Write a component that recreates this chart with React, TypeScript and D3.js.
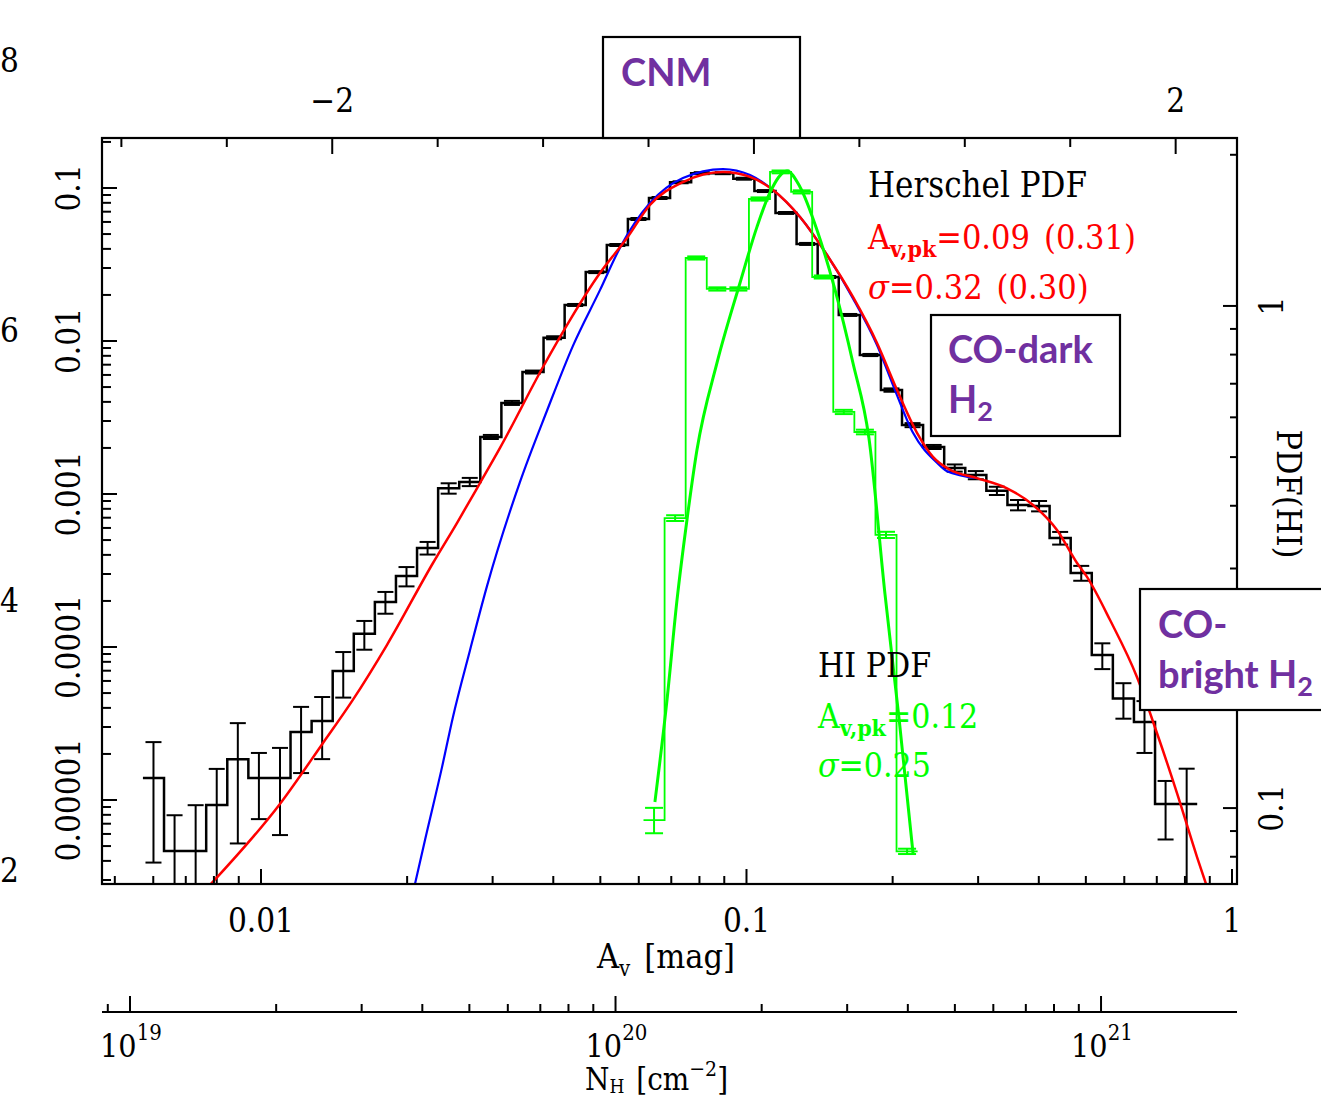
import { useEffect } from 'react'
import * as d3 from 'd3'

// ---- axis limits ----
const avDomain: [number, number] = [0.004705, 1.024]
const pdfDomain: [number, number] = [2.825e-6, 0.2122]
const hiDomain: [number, number] = [0.0706, 2.16]
const nhPerAv = 1.861e21
const etaZeroAv = 0.1036

// ---- Herschel dust PDF, bins of 0.1 in ln(Av) ----
const herschelLnStart = -5.165
const lnBin = 0.1
const herschelPdf = [
  1.39e-5, 4.65e-6, 4.65e-6, 9.27e-6, 1.85e-5, 1.39e-5, 1.39e-5, 2.78e-5, 3.28e-5, 6.97e-5,
  1.22e-4, 1.97e-4, 2.91e-4, 4.44e-4, 1.09e-3, 1.2e-3, 2.36e-3, 3.94e-3, 6.27e-3, 1.05e-2,
  1.72e-2, 2.82e-2, 4.24e-2, 6.27e-2, 8.6e-2, 0.109, 0.125, 0.125, 0.115, 0.0955,
  0.0687, 0.0431, 0.0262, 0.0148, 8.1e-3, 4.78e-3, 2.82e-3, 2.03e-3, 1.48e-3, 1.33e-3,
  1.05e-3, 8.48e-4, 8.35e-4, 5.16e-4, 3.05e-4, 8.87e-5, 4.6e-5, 3.23e-5, 9.42e-6, 9.42e-6,
]
const herschelErr = [
  1.0e-5, 3.3e-6, 4.6e-6, 6.7e-6, 1.33e-5, 6.4e-6, 8.0e-6, 1.28e-5, 1.43e-5, 2.3e-5,
  2.6e-5, 3.2e-5, 4.2e-5, 4.2e-5, 8.5e-5, 7.4e-5, 7.2e-5, 1.2e-4, 1.4e-4, 2.4e-4,
  2.6e-4, 4.2e-4, 6.4e-4, 9.4e-4, 1.3e-3, 1.6e-3, 1.9e-3, 1.9e-3, 1.7e-3, 1.4e-3,
  1.0e-3, 6.5e-4, 3.9e-4, 2.2e-4, 1.3e-4, 1.2e-4, 8.6e-5, 6.2e-5, 8.0e-5, 8.2e-5,
  6.5e-5, 6.6e-5, 6.5e-5, 4.9e-5, 3.4e-5, 1.7e-5, 1.2e-5, 1.2e-5, 3.9e-6, 6.6e-6,
]

// ---- HI PDF (right axis) ----
const hiLnStart = -2.791
const hiPdf = [0.0946, 0.378, 1.246, 1.081, 1.081, 1.633, 1.849, 1.687, 1.142, 0.615, 0.561, 0.35, 0.082]
const hiErr = [0.0055, 0.005, 0.009, 0.008, 0.008, 0.012, 0.012, 0.012, 0.008, 0.006, 0.006, 0.005, 0.001]

// ---- fitted curves, sampled from the figure ----
const redAv = [0.00789, 0.01094, 0.01342, 0.01546, 0.01817, 0.02261, 0.02533, 0.02826, 0.03107,
  0.03809, 0.04329, 0.04991, 0.05674, 0.06326, 0.07398, 0.08947, 0.1017, 0.1134, 0.1289,
  0.1465, 0.1657, 0.1857, 0.2042, 0.2245, 0.2421, 0.2625, 0.2985, 0.344, 0.3892,
  0.436, 0.4795, 0.5027, 0.5608, 0.6371, 0.7005, 0.7704, 0.8472, 0.884]
const redPdf = [2.83e-6, 9.42e-6, 2.36e-5, 4.51e-5, 1.03e-4, 3.54e-4, 6.46e-4, 1.18e-3, 2.0e-3,
  6.76e-3, 1.37e-2, 2.78e-2, 4.71e-2, 7.74e-2, 0.1094, 0.1273, 0.1181, 0.097, 0.0646,
  0.0365, 0.0194, 9.71e-3, 4.78e-3, 2.51e-3, 1.75e-3, 1.44e-3, 1.27e-3, 1.09e-3, 8.48e-4,
  5.82e-4, 3.54e-4, 2.87e-4, 1.5e-4, 6.37e-5, 2.74e-5, 1.11e-5, 4.24e-6, 2.83e-6]

const blueAv = [0.02076, 0.02177, 0.0236, 0.02485, 0.02694, 0.02921, 0.03416, 0.03882, 0.04391,
  0.04991, 0.05486, 0.06326, 0.07398, 0.08947, 0.1017, 0.1134, 0.1289, 0.1465, 0.1657,
  0.1857, 0.2022, 0.2203, 0.2468, 0.2588, 0.2985]
const bluePdf = [2.83e-6, 5.48e-6, 1.64e-5, 3.48e-5, 9.5e-5, 2.5e-4, 1.2e-3, 3.5e-3, 9.3e-3,
  2.15e-2, 4.06e-2, 7.97e-2, 0.1162, 0.133, 0.1216, 0.097, 0.0646, 0.0365, 0.019,
  9.41e-3, 4.78e-3, 2.51e-3, 1.6e-3, 1.41e-3, 1.27e-3]

const greenAv = [0.06477, 0.06859, 0.07193, 0.0754, 0.07906, 0.08694, 0.09696, 0.1051, 0.1117, 0.1212,
  0.1289, 0.1397, 0.1522, 0.1657, 0.1787, 0.1929, 0.2064, 0.2203]
const greenHi = [0.1028, 0.1641, 0.2597, 0.3748, 0.5165, 0.7699, 1.111, 1.437, 1.68, 1.857,
  1.726, 1.417, 1.076, 0.7699, 0.5463, 0.2664, 0.1493, 0.0813]

const FONT = '"DejaVu Serif Condensed", "DejaVu Serif", serif'
const SANS = 'Lato, "Open Sans", sans-serif'
const PURPLE = '#7030a0'
const L = 102, R = 1237, T = 138, B = 884
const NH_Y = 1012

function logTicks(lo: number, hi: number) {
  const out: { v: number; major: boolean }[] = []
  for (let e = Math.floor(Math.log10(lo)); e <= Math.ceil(Math.log10(hi)); e++) {
    for (let m = 1; m <= 9; m++) {
      const v = m * Math.pow(10, e)
      if (v >= lo && v <= hi) out.push({ v, major: m === 1 })
    }
  }
  return out
}

function stepPath(edges: number[], levels: number[]) {
  let d = `M${edges[0]},${levels[0]}H${edges[1]}`
  for (let i = 1; i < levels.length; i++) d += `V${levels[i]}H${edges[i + 1]}`
  return d
}

export default function App() {
  useEffect(() => {
    document.body.style.margin = '0'
  }, [])

  const x = d3.scaleLog().domain(avDomain).range([L, R])
  const y = d3.scaleLog().domain(pdfDomain).range([B, T])
  const yHi = d3.scaleLog().domain(hiDomain).range([B, T])
  const xTop = d3.scaleLinear()
    .domain([Math.log(avDomain[0] / etaZeroAv), Math.log(avDomain[1] / etaZeroAv)])
    .range([L, R])
  const xNh = d3.scaleLog().domain([avDomain[0] * nhPerAv, avDomain[1] * nhPerAv]).range([L, R])

  const hEdges = d3.range(herschelPdf.length + 1).map(i => x(Math.exp(herschelLnStart + i * lnBin)))
  const hCenters = herschelPdf.map((_, i) => x(Math.exp(herschelLnStart + (i + 0.5) * lnBin)))
  const gEdges = d3.range(hiPdf.length + 1).map(i => x(Math.exp(hiLnStart + i * lnBin)))
  const gCenters = hiPdf.map((_, i) => x(Math.exp(hiLnStart + (i + 0.5) * lnBin)))

  const line = d3.line<[number, number]>().curve(d3.curveMonotoneX)
  const redPath = line(redAv.map((a, i) => [x(a), y(redPdf[i])]))
  const bluePath = line(blueAv.map((a, i) => [x(a), y(bluePdf[i])]))
  const greenPath = line(greenAv.map((a, i) => [x(a), yHi(greenHi[i])]))

  const errBar = (cx: number, v: number, e: number, sc: (n: number) => number, lo: number, key: string, color: string, cap: number) => {
    const top = sc(v + e)
    const hasBottom = v - e > lo
    const bot = hasBottom ? sc(v - e) : B
    return (
      <g key={key} stroke={color} strokeWidth={2}>
        <line x1={cx} x2={cx} y1={top} y2={bot} />
        <line x1={cx - cap} x2={cx + cap} y1={top} y2={top} />
        {hasBottom && <line x1={cx - cap} x2={cx + cap} y1={bot} y2={bot} />}
      </g>
    )
  }

  const xTicks = logTicks(avDomain[0], avDomain[1])
  const yTicks = logTicks(pdfDomain[0], pdfDomain[1])
  const hiTicks = logTicks(hiDomain[0], hiDomain[1])
  const nhTicks = logTicks(avDomain[0] * nhPerAv, avDomain[1] * nhPerAv)
  const topTicks = d3.range(-3, 2.01, 0.5)

  const xLabels = [0.01, 0.1, 1]
  const yLabels = ['0.1', '0.01', '0.001', '0.0001', '0.00001']
  const nhLabels = [19, 20, 21]

  return (
    <div style={{ position: 'absolute', left: 0, top: 0 }}>
      <svg width={1321} height={1100} style={{ display: 'block', background: '#fff' }} fontFamily={FONT}>
        <defs>
          <clipPath id="plot">
            <rect x={L} y={T} width={R - L} height={B - T} />
          </clipPath>
        </defs>

        {/* labels of the neighbouring panel, at the page edge */}
        {['8', '6', '4', '2'].map((t, i) => (
          <text key={t} x={19} y={[72, 342, 612, 882][i]} fontSize={33} textAnchor="end" fontStretch="condensed">{t}</text>
        ))}

        <g clipPath="url(#plot)" fill="none">
          <path d={stepPath(hEdges, herschelPdf.map(v => y(v)))} stroke="#000" strokeWidth={2.5} />
          {herschelPdf.map((v, i) => errBar(hCenters[i], v, herschelErr[i], y, pdfDomain[0], 'h' + i, '#000', 8))}
          <path d={bluePath ?? ''} stroke="#0000ff" strokeWidth={2.2} />
          <path d={redPath ?? ''} stroke="#ff0000" strokeWidth={2.5} />
          <path d={stepPath(gEdges, hiPdf.map(v => yHi(v)))} stroke="#00ff00" strokeWidth={1.8} />
          {hiPdf.map((v, i) => errBar(gCenters[i], v, hiErr[i], yHi, hiDomain[0], 'g' + i, '#00ff00', 9))}
          <path d={greenPath ?? ''} stroke="#00ff00" strokeWidth={3} />
        </g>

        {/* frame */}
        <rect x={L} y={T} width={R - L} height={B - T} fill="none" stroke="#000" strokeWidth={2.2} />

        {/* bottom Av axis */}
        {xTicks.map(t => (
          <line key={'xb' + t.v} x1={x(t.v)} x2={x(t.v)} y1={B} y2={B - (t.major ? 15 : 8)} stroke="#000" strokeWidth={2} />
        ))}
        {xLabels.map(v => (
          <text key={'xl' + v} x={x(v)} y={932} fontSize={33} textAnchor="middle" fontStretch="condensed">{String(v)}</text>
        ))}
        <text x={597} y={968} fontSize={34} fontStretch="condensed">
          A<tspan dy={8} fontSize={22}>v</tspan><tspan dy={-8} dx={14}>[mag]</tspan>
        </text>

        {/* top eta axis */}
        {topTicks.map(v => (
          <line key={'xt' + v} x1={xTop(v)} x2={xTop(v)} y1={T} y2={T + (v % 2 === 0 ? 16 : 9)} stroke="#000" strokeWidth={2} />
        ))}
        {[-2, 0, 2].map(v => (
          <text key={'tl' + v} x={xTop(v)} y={112} fontSize={33} textAnchor="middle" fontStretch="condensed">{v < 0 ? '\u2212' + Math.abs(v) : String(v)}</text>
        ))}

        {/* left PDF axis */}
        {yTicks.map(t => (
          <line key={'yl' + t.v} x1={L} x2={L + (t.major ? 15 : 9)} y1={y(t.v)} y2={y(t.v)} stroke="#000" strokeWidth={2} />
        ))}
        {yLabels.map(s => (
          <text key={'ylb' + s} transform={`translate(80,${y(+s)}) rotate(-90)`} fontSize={33} textAnchor="middle" fontStretch="condensed">{s}</text>
        ))}

        {/* right PDF(HI) axis */}
        {hiTicks.map(t => (
          <line key={'yr' + t.v} x1={R} x2={R - (t.major ? 14 : 7)} y1={yHi(t.v)} y2={yHi(t.v)} stroke="#000" strokeWidth={2} />
        ))}
        {['1', '0.1'].map(s => (
          <text key={'yrl' + s} transform={`translate(1283,${yHi(+s)}) rotate(-90)`} fontSize={33} textAnchor="middle" fontStretch="condensed">{s}</text>
        ))}
        <text transform="translate(1277,494) rotate(90)" fontSize={34} textAnchor="middle" fontStretch="condensed">PDF(HI)</text>

        {/* N_H axis */}
        <line x1={L} x2={R} y1={NH_Y} y2={NH_Y} stroke="#000" strokeWidth={2.2} />
        {nhTicks.map(t => (
          <line key={'nh' + t.v} x1={xNh(t.v)} x2={xNh(t.v)} y1={NH_Y} y2={NH_Y - (t.major ? 16 : 8)} stroke="#000" strokeWidth={2} />
        ))}
        {nhLabels.map(p => (
          <text key={'nhl' + p} x={xNh(Math.pow(10, p)) - 30} y={1057} fontSize={32} fontStretch="condensed">
            10<tspan dy={-17} fontSize={22}>{p}</tspan>
          </text>
        ))}
        <text x={585} y={1090} fontSize={31} fontStretch="condensed">
          N<tspan dy={3} fontSize={19}>H</tspan><tspan dy={-3} dx={12}>[cm</tspan><tspan dy={-14} fontSize={21}>{'\u22122'}</tspan><tspan dy={14}>]</tspan>
        </text>

        {/* annotations */}
        <text x={868} y={197} fontSize={34.5} fontStretch="condensed">Herschel PDF</text>
        <text x={868} y={249} fontSize={34} fill="#ff0000" fontStretch="condensed">
          A<tspan dy={8} fontSize={23} fontWeight="bold">v,pk</tspan><tspan dy={-8}>=0.09</tspan><tspan dx={14}>(0.31)</tspan>
        </text>
        <text x={868} y={299} fontSize={34} fill="#ff0000" fontStretch="condensed">
          <tspan fontStyle="italic">σ</tspan>=0.32<tspan dx={14}>(0.30)</tspan>
        </text>
        <text x={818} y={677} fontSize={33.5} fontStretch="condensed">HI PDF</text>
        <text x={818} y={728} fontSize={33.5} fill="#00ff00" fontStretch="condensed">
          A<tspan dy={8} fontSize={23} fontWeight="bold">v,pk</tspan><tspan dy={-8}>=0.12</tspan>
        </text>
        <text x={818} y={777} fontSize={33.5} fill="#00ff00" fontStretch="condensed">
          <tspan fontStyle="italic">σ</tspan>=0.25
        </text>

        {/* region boxes */}
        <g fontFamily={SANS} fontWeight="bold" fill={PURPLE}>
          <rect x={603} y={37} width={197} height={101} fill="#fff" stroke="#000" strokeWidth={2.2} />
          <text x={621} y={86} fontSize={38}>CNM</text>

          <rect x={931} y={315} width={189} height={121} fill="#fff" stroke="#000" strokeWidth={2.2} />
          <text x={948} y={363} fontSize={38}>CO-dark</text>
          <text x={948} y={413} fontSize={38}>H<tspan dy={8} fontSize={27}>2</tspan></text>

          <rect x={1140} y={589} width={220} height={121} fill="#fff" stroke="#000" strokeWidth={2.2} />
          <text x={1158} y={638} fontSize={38}>CO-</text>
          <text x={1158} y={688} fontSize={38}>bright H<tspan dy={8} fontSize={27}>2</tspan></text>
        </g>
      </svg>
    </div>
  )
}
